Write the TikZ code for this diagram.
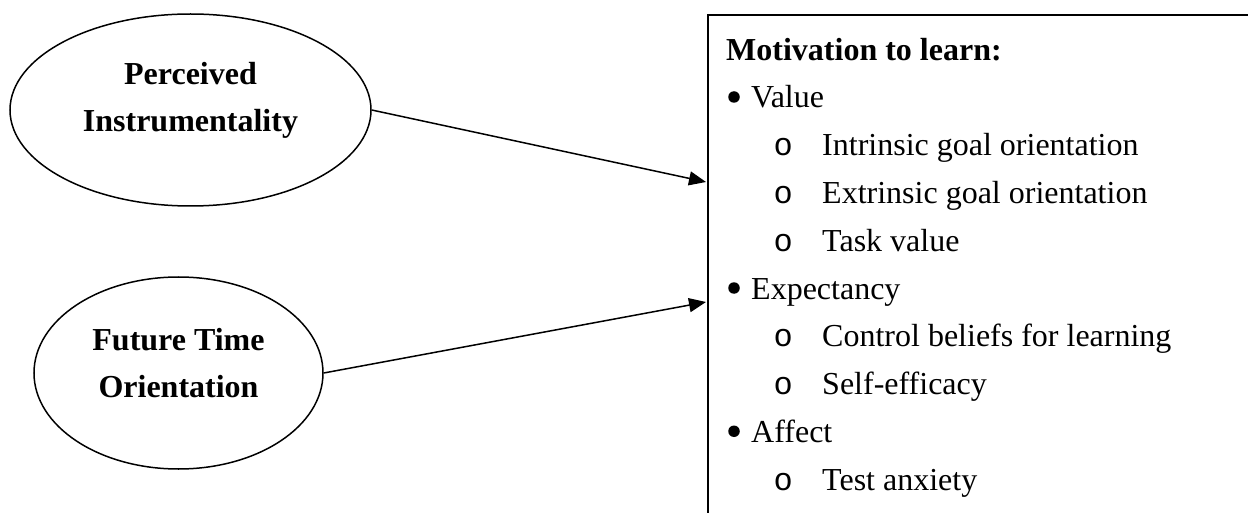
\documentclass[tikz,border=0pt]{standalone}
\usepackage{fontspec}
\setmainfont{Liberation Serif}
\newfontfamily\bulletmono{Liberation Mono}
\usetikzlibrary{arrows.meta,shapes.geometric}
\begin{document}
\begin{tikzpicture}[x=1pt,y=-1pt,
  oval/.style={draw,ellipse,line width=1.5pt,inner sep=0pt},
  lbl/.style={font=\fontsize{32}{38}\selectfont\bfseries,anchor=base,inner sep=0pt},
  itm/.style={font=\fontsize{32}{38}\selectfont,anchor=base west,inner sep=0pt},
  dotb/.style={circle,fill=black,minimum size=11.5pt,inner sep=0pt},
  circb/.style={font=\fontsize{32}{38}\bulletmono\selectfont,anchor=base west,inner sep=0pt},
  conn/.style={line width=1.5pt,-{Triangle[length=17pt,width=14pt]}}]
\useasboundingbox (0,0) rectangle (1248,513);
\clip (0,0) rectangle (1248,513);
% ellipses
\node[oval,minimum width=361pt,minimum height=192pt] (pi) at (190.5,110) {};
\node[lbl] (pi1) at (190.5,85) {Perceived};
\node[lbl] (pi2) at (190.5,132) {Instrumentality};
\node[oval,minimum width=289pt,minimum height=192pt] (fto) at (178.5,373) {};
\node[lbl] (fto1) at (178.5,350) {Future Time};
\node[lbl] (fto2) at (178.5,397) {Orientation};
% box
\node[draw,line width=2pt,minimum width=700pt,minimum height=600pt,anchor=north west,inner sep=0pt] (box) at (707,14) {};
\coordinate (t1) at (706,182);
\coordinate (t2) at (706,302);
\draw[conn] (pi.east) -- (t1);
\draw[conn] (fto.east) -- (t2);
% list
\node[lbl,anchor=base west] (title) at (726,61) {Motivation to learn:};
\node[dotb] (b1) at (734,97) {};
\node[itm] (l1) at (751,108) {Value};
\node[circb] (c11) at (773.5,155.75) {o};
\node[itm] (l11) at (822,155.75) {Intrinsic goal orientation};
\node[circb] (c12) at (773.5,203.5) {o};
\node[itm] (l12) at (822,203.5) {Extrinsic goal orientation};
\node[circb] (c13) at (773.5,251.25) {o};
\node[itm] (l13) at (822,251.25) {Task value};
\node[dotb] (b2) at (734,288) {};
\node[itm] (l2) at (751,299) {Expectancy};
\node[circb] (c21) at (773.5,346.75) {o};
\node[itm] (l21) at (822,346.75) {Control beliefs for learning};
\node[circb] (c22) at (773.5,394.5) {o};
\node[itm] (l22) at (822,394.5) {Self-efficacy};
\node[dotb] (b3) at (734,431.25) {};
\node[itm] (l3) at (751,442.25) {Affect};
\node[circb] (c31) at (773.5,490) {o};
\node[itm] (l31) at (822,490) {Test anxiety};
\end{tikzpicture}
\end{document}
